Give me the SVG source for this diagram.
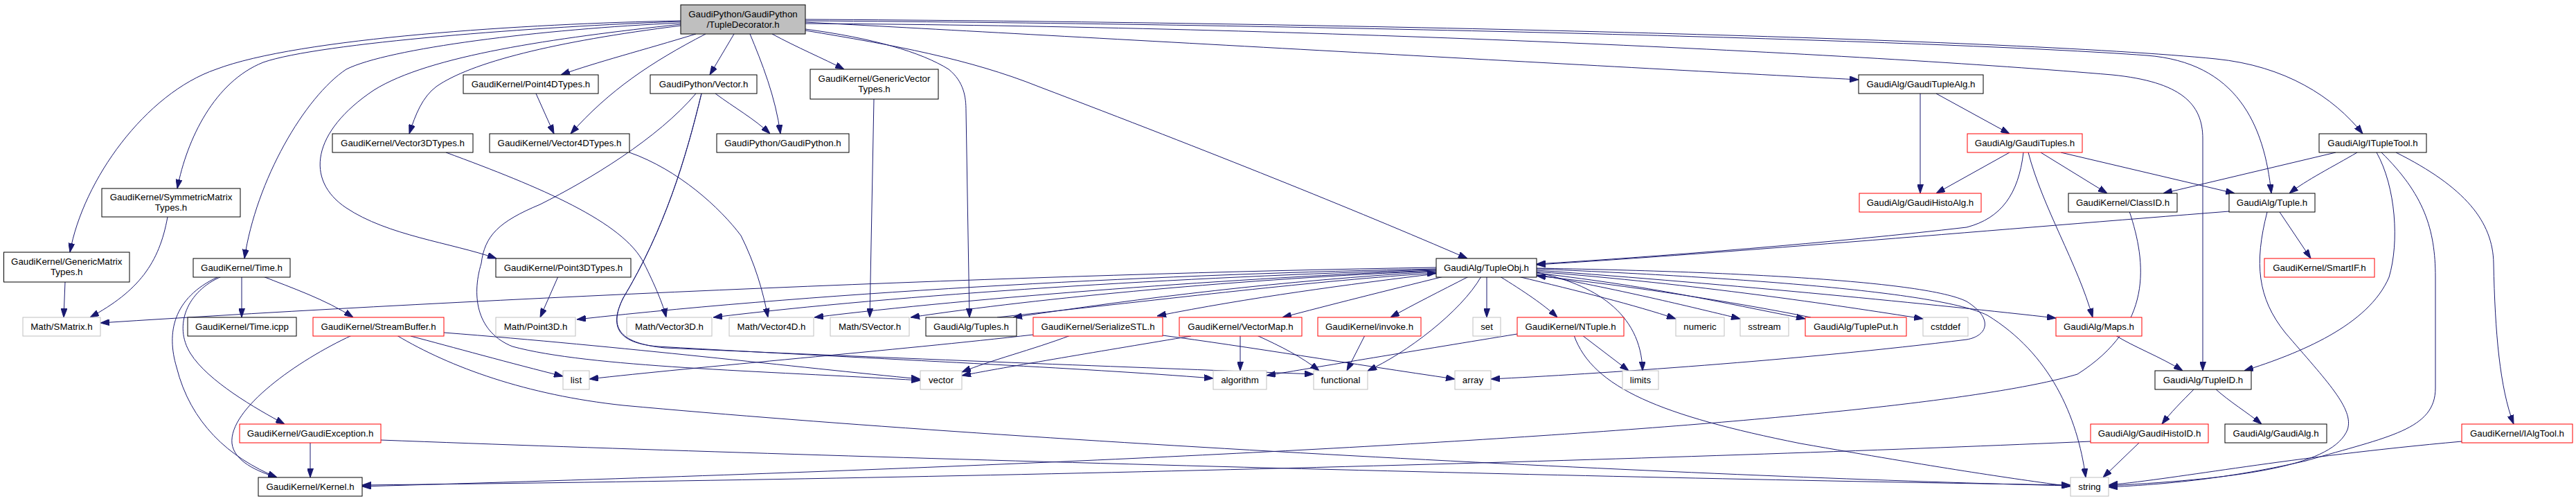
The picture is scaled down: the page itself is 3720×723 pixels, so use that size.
<svg xmlns="http://www.w3.org/2000/svg" width="3720" height="723" viewBox="0 0 3720 723">
<style>
rect{fill:#fff;stroke:#000;stroke-width:1}
.r rect{stroke:#ff0000}
.g rect{stroke:#bfbfbf}
.root rect{fill:#bfbfbf}
text{font-family:"Liberation Sans",Arial,sans-serif;font-size:13.3px;text-anchor:middle;fill:#000}
#edges path{fill:none;stroke:#191970;stroke-width:1;marker-end:url(#a)}
</style>
<defs>
<marker id="a" viewBox="0 0 13 9" markerWidth="13" markerHeight="9" refX="13" refY="4.5" orient="auto" markerUnits="userSpaceOnUse"><path d="M0,0 L13,4.5 L0,9 z" fill="#191970" stroke="#191970"/></marker>
</defs>
<rect x="0" y="0" width="3720" height="723" style="fill:#fff;stroke:none"/>
<g id="edges">
<path d="M983,30 C760,34 430,55 312,100 C210,135 120,260 101,364"/>
<path d="M983,31 C780,38 460,62 380,90 C310,118 270,200 256,272"/>
<path d="M983,33 C780,42 560,70 500,100 C440,140 370,260 353,373"/>
<path d="M983,35 C800,55 620,80 540,130 C450,190 440,260 500,300 C560,340 650,350 717,373"/>
<path d="M983,37 C800,60 680,90 630,125 C610,140 600,165 591,193"/>
<path d="M1005,49 C930,72 860,90 810,108"/>
<path d="M1019,49 C940,90 880,130 824,193"/>
<path d="M1060,49 L1025,108"/>
<path d="M1083,49 C1100,90 1120,140 1127,193"/>
<path d="M1115,49 C1150,68 1190,85 1219,100"/>
<path d="M1163,42 C1260,55 1330,75 1370,100 C1392,118 1395,140 1395,160 L1400,458"/>
<path d="M1163,44 C1290,65 1400,85 1500,125 C1750,220 1950,300 2119,373"/>
<path d="M1163,32 C1500,50 2300,95 2684,115"/>
<path d="M1163,28 C1900,32 2900,55 3200,85 C3300,95 3370,140 3412,193"/>
<path d="M1163,30 C1900,35 2800,58 3100,80 C3230,90 3270,180 3280,279"/>
<path d="M1163,34 C1900,38 2700,78 3050,108 C3150,118 3181,150 3181,200 L3181,535"/>
<path d="M94,407 L92,458"/>
<path d="M242,313 C230,380 200,420 130,458"/>
<path d="M2074,386 C1500,395 700,430 145,466"/>
<path d="M349,399 L349,458"/>
<path d="M380,399 C420,415 470,432 510,458"/>
<path d="M320,399 C270,420 250,470 275,510 C300,550 370,590 411,612"/>
<path d="M314,400 C250,430 240,480 255,530 C275,610 330,660 400,689"/>
<path d="M508,484 C430,520 330,590 335,640 C338,665 370,680 400,689"/>
<path d="M448,639 L448,689"/>
<path d="M593,485 C650,500 740,525 813,543"/>
<path d="M573,484 C650,530 760,570 900,585 C1500,640 2500,690 2990,701"/>
<path d="M641,480 C900,500 1150,530 1329,547"/>
<path d="M1033,135 C1060,155 1090,172 1112,193"/>
<path d="M1005,135 C950,200 850,260 780,295 C720,320 700,340 695,380 C680,430 690,480 740,500 C850,530 1100,535 1329,549"/>
<path d="M1013,135 C990,230 960,330 900,430 C880,470 890,495 950,500 C1300,520 1550,530 1752,546"/>
<path d="M1013,135 C990,230 960,330 900,430 C880,470 890,495 960,502 C1400,522 1700,532 1897,540"/>
<path d="M774,135 L800,193"/>
<path d="M806,399 L780,458"/>
<path d="M644,220 C780,270 900,320 930,380 C945,410 958,440 962,458"/>
<path d="M909,220 C980,245 1040,300 1070,340 C1090,380 1102,420 1109,458"/>
<path d="M1262,143 L1256,458"/>
<path d="M2074,388 C1700,395 1200,420 833,461"/>
<path d="M2074,389 C1700,400 1300,425 1030,458"/>
<path d="M2074,390 C1800,400 1400,430 1176,458"/>
<path d="M2074,391 C1800,402 1500,430 1315,458"/>
<path d="M2074,392 C1850,405 1650,430 1463,458"/>
<path d="M1440,458 C1700,430 1900,405 2074,394"/>
<path d="M2074,395 C1950,410 1800,430 1671,456"/>
<path d="M2085,399 C2000,420 1920,440 1852,458"/>
<path d="M2121,399 C2080,420 2040,440 2008,458"/>
<path d="M2139,399 C2110,450 2030,510 1975,535"/>
<path d="M2147,399 L2147,458"/>
<path d="M2166,399 C2200,420 2230,440 2249,458"/>
<path d="M2219,393 C2300,410 2370,450 2372,535"/>
<path d="M2192,399 C2280,420 2360,440 2420,460"/>
<path d="M2219,396 C2350,420 2450,445 2513,460"/>
<path d="M2219,394 C2400,415 2500,440 2607,460"/>
<path d="M2219,392 C2450,410 2650,440 2777,460"/>
<path d="M2219,390 C2500,410 2800,440 2969,459"/>
<path d="M2219,388 C2500,400 2800,420 2870,455 C2960,510 3000,600 3012,689"/>
<path d="M2219,387 C2500,392 2780,405 2840,435 C2880,460 2870,485 2840,490 C2600,520 2300,540 2153,547"/>
<path d="M2922,220 C2915,280 2890,315 2840,328 C2650,350 2400,370 2219,381"/>
<path d="M3219,305 C2900,330 2500,365 2219,382"/>
<path d="M2615,458 C2500,435 2350,412 2219,398"/>
<path d="M2773,135 L2773,279"/>
<path d="M2796,135 L2902,193"/>
<path d="M2902,220 L2796,279"/>
<path d="M2947,220 L3043,279"/>
<path d="M2976,220 L3227,279"/>
<path d="M2929,220 C2950,300 3000,380 3022,458"/>
<path d="M3373,220 L3124,279"/>
<path d="M3404,220 C3370,240 3330,260 3306,279"/>
<path d="M3432,220 C3460,270 3465,350 3450,400 C3420,470 3320,510 3241,535"/>
<path d="M3439,220 C3500,280 3517,330 3517,400 L3517,560 C3517,620 3450,630 3330,665 C3200,695 3100,700 3045,703"/>
<path d="M3460,220 C3560,270 3600,320 3601,380 C3603,480 3610,560 3630,612"/>
<path d="M3292,306 L3337,373"/>
<path d="M3274,306 C3255,380 3260,430 3300,480 C3360,550 3400,590 3390,620 C3370,670 3250,690 3045,701"/>
<path d="M3075,305 C3100,380 3110,470 3000,540 C2800,600 2000,660 523,702"/>
<path d="M3089,639 L3037,689"/>
<path d="M3019,637 C2500,660 1500,690 523,700"/>
<path d="M3555,637 C3300,660 3150,690 3045,700"/>
<path d="M3055,484 C3080,500 3120,515 3152,535"/>
<path d="M3169,561 C3150,580 3135,595 3122,612"/>
<path d="M3199,561 C3220,580 3245,595 3266,612"/>
<path d="M550,635 C1200,660 2300,690 2990,700"/>
<path d="M2273,484 C2300,560 2400,600 2600,640 C2800,675 2900,690 2990,702"/>
<path d="M2285,484 L2352,535"/>
<path d="M2191,482 C2050,505 1900,530 1829,542"/>
<path d="M1971,484 L1945,535"/>
<path d="M1791,484 L1791,535"/>
<path d="M1720,485 C1600,505 1450,530 1389,542"/>
<path d="M1815,484 C1850,500 1880,515 1905,535"/>
<path d="M1546,484 C1490,505 1430,520 1389,537"/>
<path d="M1492,483 C1300,505 1000,530 851,547"/>
<path d="M1679,484 C1800,500 1950,525 2101,547"/>
</g>
<g id="n_root" class="root"><rect x="983" y="7" width="180" height="42"/><text x="1073" y="24.5">GaudiPython/GaudiPython</text><text x="1073" y="39.5">/TupleDecorator.h</text></g>
<g id="n_genmatrix"><rect x="5.5" y="364" width="181.5" height="43"/><text x="96.25" y="382">GaudiKernel/GenericMatrix</text><text x="96.25" y="397">Types.h</text></g>
<g id="n_symmatrix"><rect x="147" y="272" width="200" height="41"/><text x="247" y="289">GaudiKernel/SymmetricMatrix</text><text x="247" y="304">Types.h</text></g>
<g id="n_vec3dtypes"><rect x="480" y="193" width="203" height="27"/><text x="581.5" y="211">GaudiKernel/Vector3DTypes.h</text></g>
<g id="n_pt4dtypes"><rect x="669" y="108" width="195" height="27"/><text x="766.5" y="126">GaudiKernel/Point4DTypes.h</text></g>
<g id="n_gpvector"><rect x="939" y="108" width="154" height="27"/><text x="1016" y="126">GaudiPython/Vector.h</text></g>
<g id="n_vec4dtypes"><rect x="707" y="193" width="202" height="27"/><text x="808" y="211">GaudiKernel/Vector4DTypes.h</text></g>
<g id="n_gaudipython"><rect x="1035" y="193" width="191" height="27"/><text x="1130.5" y="211">GaudiPython/GaudiPython.h</text></g>
<g id="n_genvector"><rect x="1170" y="100" width="185" height="43"/><text x="1262.5" y="118">GaudiKernel/GenericVector</text><text x="1262.5" y="133">Types.h</text></g>
<g id="n_tuplealg"><rect x="2684" y="108" width="180" height="27"/><text x="2774" y="126">GaudiAlg/GaudiTupleAlg.h</text></g>
<g id="n_gtuples" class="r"><rect x="2841" y="193" width="166" height="27"/><text x="2924" y="211">GaudiAlg/GaudiTuples.h</text></g>
<g id="n_histoalg" class="r"><rect x="2685" y="279" width="176" height="27"/><text x="2773" y="297">GaudiAlg/GaudiHistoAlg.h</text></g>
<g id="n_classid"><rect x="2987" y="279" width="157" height="27"/><text x="3065.5" y="297">GaudiKernel/ClassID.h</text></g>
<g id="n_ituptool"><rect x="3349" y="193" width="155" height="27"/><text x="3426.5" y="211">GaudiAlg/ITupleTool.h</text></g>
<g id="n_tuple"><rect x="3219" y="279" width="124" height="27"/><text x="3281" y="297">GaudiAlg/Tuple.h</text></g>
<g id="n_time"><rect x="279" y="373" width="140" height="27"/><text x="349" y="391">GaudiKernel/Time.h</text></g>
<g id="n_timeicpp"><rect x="271" y="458" width="157" height="27"/><text x="349.5" y="476">GaudiKernel/Time.icpp</text></g>
<g id="n_smatrix" class="g"><rect x="33" y="458" width="112" height="27"/><text x="89" y="476">Math/SMatrix.h</text></g>
<g id="n_streambuf" class="r"><rect x="452" y="458" width="189" height="27"/><text x="546.5" y="476">GaudiKernel/StreamBuffer.h</text></g>
<g id="n_gexception" class="r"><rect x="346" y="612" width="204" height="27"/><text x="448" y="630">GaudiKernel/GaudiException.h</text></g>
<g id="n_kernel"><rect x="373" y="689" width="150" height="27"/><text x="448" y="707">GaudiKernel/Kernel.h</text></g>
<g id="n_pt3dtypes"><rect x="716" y="373" width="195" height="27"/><text x="813.5" y="391">GaudiKernel/Point3DTypes.h</text></g>
<g id="n_point3d" class="g"><rect x="716" y="458" width="115" height="27"/><text x="773.5" y="476">Math/Point3D.h</text></g>
<g id="n_vector3d" class="g"><rect x="905" y="458" width="123" height="27"/><text x="966.5" y="476">Math/Vector3D.h</text></g>
<g id="n_vector4d" class="g"><rect x="1053" y="458" width="122" height="27"/><text x="1114" y="476">Math/Vector4D.h</text></g>
<g id="n_svector" class="g"><rect x="1199" y="458" width="114" height="27"/><text x="1256" y="476">Math/SVector.h</text></g>
<g id="n_list" class="g"><rect x="813" y="535" width="38" height="27"/><text x="832" y="553">list</text></g>
<g id="n_tuples"><rect x="1337" y="458" width="131" height="27"/><text x="1402.5" y="476">GaudiAlg/Tuples.h</text></g>
<g id="n_serialize" class="r"><rect x="1492" y="458" width="187" height="27"/><text x="1585.5" y="476">GaudiKernel/SerializeSTL.h</text></g>
<g id="n_vectormap" class="r"><rect x="1703" y="458" width="177" height="27"/><text x="1791.5" y="476">GaudiKernel/VectorMap.h</text></g>
<g id="n_vector" class="g"><rect x="1329" y="535" width="60" height="27"/><text x="1359" y="553">vector</text></g>
<g id="n_algorithm" class="g"><rect x="1752" y="535" width="77" height="27"/><text x="1790.5" y="553">algorithm</text></g>
<g id="n_tupleobj"><rect x="2074" y="373" width="145" height="27"/><text x="2146.5" y="391">GaudiAlg/TupleObj.h</text></g>
<g id="n_invoke" class="r"><rect x="1903" y="458" width="149" height="27"/><text x="1977.5" y="476">GaudiKernel/invoke.h</text></g>
<g id="n_set" class="g"><rect x="2127" y="458" width="40" height="27"/><text x="2147" y="476">set</text></g>
<g id="n_ntuple" class="r"><rect x="2191" y="458" width="154" height="27"/><text x="2268" y="476">GaudiKernel/NTuple.h</text></g>
<g id="n_numeric" class="g"><rect x="2420" y="458" width="70" height="27"/><text x="2455" y="476">numeric</text></g>
<g id="n_functional" class="g"><rect x="1897" y="535" width="78" height="27"/><text x="1936" y="553">functional</text></g>
<g id="n_array" class="g"><rect x="2101" y="535" width="52" height="27"/><text x="2127" y="553">array</text></g>
<g id="n_limits" class="g"><rect x="2343" y="535" width="52" height="27"/><text x="2369" y="553">limits</text></g>
<g id="n_sstream" class="g"><rect x="2513" y="458" width="70" height="27"/><text x="2548" y="476">sstream</text></g>
<g id="n_tupleput" class="r"><rect x="2607" y="458" width="146" height="27"/><text x="2680" y="476">GaudiAlg/TuplePut.h</text></g>
<g id="n_cstddef" class="g"><rect x="2777" y="458" width="65" height="27"/><text x="2809.5" y="476">cstddef</text></g>
<g id="n_maps" class="r"><rect x="2969" y="458" width="124" height="27"/><text x="3031" y="476">GaudiAlg/Maps.h</text></g>
<g id="n_string" class="g"><rect x="2990" y="689" width="55" height="27"/><text x="3017.5" y="707">string</text></g>
<g id="n_histoid" class="r"><rect x="3019" y="612" width="170" height="27"/><text x="3104" y="630">GaudiAlg/GaudiHistoID.h</text></g>
<g id="n_smartif" class="r"><rect x="3270" y="373" width="159" height="27"/><text x="3349.5" y="391">GaudiKernel/SmartIF.h</text></g>
<g id="n_tupleid"><rect x="3112" y="535" width="139" height="27"/><text x="3181.5" y="553">GaudiAlg/TupleID.h</text></g>
<g id="n_gaudialg"><rect x="3213" y="612" width="147" height="27"/><text x="3286.5" y="630">GaudiAlg/GaudiAlg.h</text></g>
<g id="n_ialgtool" class="r"><rect x="3555" y="612" width="160" height="27"/><text x="3635" y="630">GaudiKernel/IAlgTool.h</text></g>
</svg>
